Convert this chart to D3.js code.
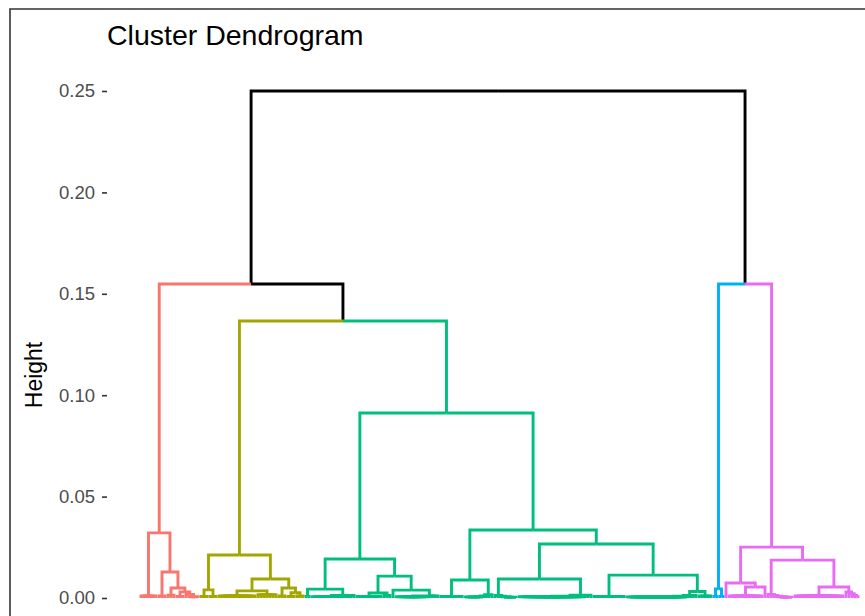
<!DOCTYPE html>
<html>
<head>
<meta charset="utf-8">
<script src="https://cdn.jsdelivr.net/npm/d3@7"></script>
<style>
body { margin: 0; background: #fff; }
svg { display: block; font-family: "Liberation Sans", Arial, sans-serif; }
</style>
</head>
<body>
<script>
// merge tree: node name, merge height, ordered children
// (a number among the children = that many single leaves joined at that node)
var nodeNames = [
  "root", "B1", "B2", "B3",
  "red", "rL", "rR", "rRL", "rRR", "rRRa", "rRRb", "rRRc", "rRRd", "rRRe",
  "olive", "oL", "oLa", "oLb", "oR", "oRL", "oRLa", "oRLb", "oRR", "oRRa", "oRRb", "oRRc", "oRRd",
  "green", "gL", "gLL", "g1", "g2", "g2a", "gLR", "gLRL", "g3", "g4", "gLRR", "g6", "g6a",
  "gR", "gRL", "g7", "g8", "g8a", "g8b", "g8c", "gRR", "gRRL", "g9", "g9a", "g9b", "g9c",
  "g10", "g10a", "g10b", "gRRR", "g11", "g12", "g12a", "g12c", "g12d", "g12e", "g12b",
  "blue", "bL", "bR",
  "magenta", "mL", "m2", "m2a", "mR", "m3", "m3a", "m3b", "m3c", "m3d", "m4", "m4a", "m4b", "m4c", "m4d", "m4e"
];
var nodeHeights = [
  0.2500, 0.1548, 0.1366, 0.1548,
  0.0321, 0.0010, 0.0128, 0.0010, 0.0049, 0.0014, 0.0030, 0.0008, 0.0018, 0.0006,
  0.0212, 0.0040, 0.0008, 0.0008, 0.0094, 0.0035, 0.0010, 0.0016, 0.0049, 0.0010, 0.0026, 0.0008, 0.0010,
  0.0912, 0.0192, 0.0044, 0.0008, 0.0012, 0.0007, 0.0108, 0.0025, 0.0008, 0.0012, 0.0039, 0.0010, 0.0006,
  0.0335, 0.0089, 0.0008, 0.0016, 0.0010, 0.0007, 0.0005, 0.0266, 0.0094, 0.0012, 0.0009, 0.0006, 0.0004,
  0.0014, 0.0009, 0.0006, 0.0113, 0.0008, 0.0032, 0.0012, 0.0009, 0.0007, 0.0005, 0.0010,
  0.0045, 0.0008, 0.0008,
  0.0251, 0.0074, 0.0054, 0.0010, 0.0187, 0.0018, 0.0013, 0.0009, 0.0006, 0.0004, 0.0054, 0.0010, 0.0030, 0.0021, 0.0013, 0.0006
];
var nodeKids = [
  "B1 B3", "red B2", "olive green", "blue magenta",
  "rL rR", "6", "rRL rRR", "3", "rRRa rRRb", "3", "rRRc rRRd", "3", "1 rRRe", "4",
  "oL oR", "oLa oLb", "3", "3", "oRL oRR", "oRLa oRLb", "13", "7", "oRRa oRRb", "3", "oRRc oRRd", "3", "3",
  "gL gR", "gLL gLR", "g1 g2", "2", "g2a 1", "14", "gLRL gLRR", "g3 g4", "9", "3", "1 g6", "g6a 3", "12",
  "gRL gRR", "g7 g8", "8", "g8a 1", "g8b 1", "g8c 1", "7", "gRRL gRRR", "g9 g10", "1 g9a", "1 g9b", "1 g9c", "5",
  "g10a 1", "g10b 1", "23", "g11 g12", "11", "g12a g12b", "g12c 1", "g12d 1", "g12e 1", "21", "5",
  "bL bR", "2", "2",
  "mL mR", "1 m2", "m2a 1", "12", "m3 m4", "1 m3a", "1 m3b", "1 m3c", "1 m3d", "5", "m4a m4b", "17", "1 m4c", "1 m4d", "1 m4e", "2"
];

var clusterRoots = ["red", "olive", "green", "blue", "magenta"];
var clusterColors = ["#F8766D", "#A3A500", "#00BF7D", "#00B0F6", "#E76BF3"];
var yTicks = [0, 0.05, 0.10, 0.15, 0.20, 0.25];
var titleText = "Cluster Dendrogram",
    yTitleText = "Height";

var width = 865,
    height = 616;

var svg = d3.select("body")
    .append("svg")
    .attr("width", width)
    .attr("height", height);

//frame round the picture
svg.append("path")
    .attr("d", "M10," + height + "V9H" + width)
    .attr("fill", "none")
    .attr("stroke", "#333")
    .attr("stroke-width", 1.6);

//turn the name arrays into a nested tree
var byName = {};
nodeNames.forEach(function(n, i){
    byName[n] = {h: nodeHeights[i], kids: nodeKids[i]};
});
function build(name){
    var nd = byName[name],
        children = [];
    nd.kids.split(" ").forEach(function(tok){
        if (isNaN(+tok)) children.push(build(tok));
        else for (var k = 0; k < +tok; k++) children.push({name: name + "_" + k, h: 0});
    });
    return {name: name, h: nd.h, children: children};
}
var root = d3.hierarchy(build("root"));
var leaves = root.leaves();

var x = d3.scaleLinear()
    .domain([0, leaves.length - 1])
    .range([141, 858]);
var y = d3.scaleLinear()
    .domain([0, 0.25])
    .range([598, 91]);

//leaves evenly spaced, each merge sits midway over its children
leaves.forEach(function(d, i){ d.x = x(i); });
root.eachAfter(function(d){
    if (d.children) d.x = d3.mean(d.children, function(c){ return c.x; });
});

//colour by cluster, black above the cut
root.each(function(d){
    var k = clusterRoots.indexOf(d.data.name);
    if (k >= 0) d.color = clusterColors[k];
    else d.color = d.parent ? d.parent.color : "#000";
});

svg.append("g")
    .selectAll("path")
    .data(root.links())
    .enter()
    .append("path")
    .attr("d", function(l){
        return "M" + l.source.x + "," + y(l.source.data.h) +
               "H" + l.target.x + "V" + y(l.target.data.h);
    })
    .attr("fill", "none")
    .attr("stroke", function(l){ return l.target.color; })
    .attr("stroke-width", 2.9);

//y axis: ticks and labels only
var axis = svg.append("g")
    .attr("transform", "translate(107,0)")
    .call(d3.axisLeft(y).tickValues(yTicks).tickFormat(d3.format(".2f")).tickSize(5).tickPadding(7));
axis.select(".domain").remove();
axis.selectAll(".tick line").attr("stroke", "#333").attr("stroke-width", 1.6);
axis.selectAll(".tick text")
    .attr("fill", "#4d4d4d")
    .style("font-size", "18.5px")
    .style("font-family", "'Liberation Sans', Arial, sans-serif");

svg.append("text")
    .attr("x", 107)
    .attr("y", 45)
    .style("font-size", "28.5px")
    .text(titleText);

svg.append("text")
    .attr("transform", "translate(41.5,375) rotate(-90)")
    .attr("text-anchor", "middle")
    .style("font-size", "23px")
    .text(yTitleText);
</script>
</body>
</html>
